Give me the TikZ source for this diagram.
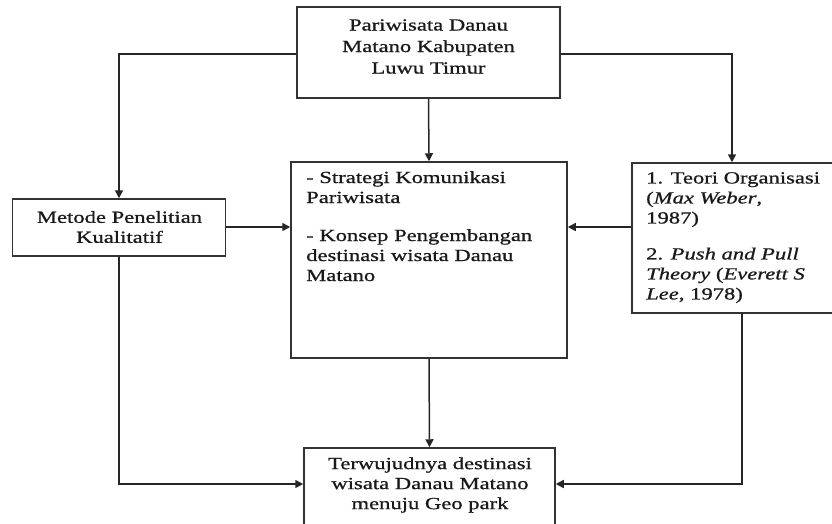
\documentclass[tikz,border=0pt]{standalone}
\usepackage{fontspec}
\setmainfont{Liberation Serif}[FakeStretch=1.33,FakeBold=0.8]
\usetikzlibrary{arrows.meta,calc}
\tikzset{
  boxnode/.style={draw=black!80, line width=1.5pt, rectangle, inner sep=0pt, fill=white},
  txt/.style={inner sep=0pt, font=\fontsize{17pt}{20pt}\selectfont, text=black!90},
  conn/.style={draw=black!85, line width=1.5pt},
  arr/.style={conn, -{Triangle[length=8pt,width=8pt]}}
}
\begin{document}
\begin{tikzpicture}[x=1pt,y=-1pt]
\useasboundingbox (0,0) rectangle (832,523);
\clip (0,0) rectangle (832,523);
% boxes
\node[boxnode, minimum width=263pt, minimum height=91pt] (top) at (428.5,52.5) {};
\node[boxnode, minimum width=213pt, minimum height=57pt] (metode) at (119,227.5) {};
\node[boxnode, minimum width=276pt, minimum height=196pt] (center) at (429,260) {};
\node[boxnode, minimum width=210pt, minimum height=150pt] (right) at (737,238) {};
\node[boxnode, minimum width=251pt, minimum height=84pt] (bottom) at (429.5,490) {};
% texts
\node[txt, align=center, font=\fontsize{17pt}{21.5pt}\selectfont] (toptxt) at (428.5,46.5) {Pariwisata Danau\\Matano Kabupaten\\Luwu Timur};
\node[txt, align=center] (mettxt) at (119.5,227) {Metode Penelitian\\Kualitatif};
\node[txt, align=left, anchor=north west] (centxt) at (306,171) {- Strategi Komunikasi\\Pariwisata\\[18pt]- Konsep Pengembangan\\destinasi wisata Danau\\Matano};
\node[txt, align=left, anchor=north west] (righttxt) at (646,172) {1. Teori Organisasi\\(\textit{Max Weber},\\1987)\\[16pt]2. \textit{Push and Pull}\\\textit{Theory} (\textit{Everett S}\\\textit{Lee}, 1978)};
\node[txt, align=center] (bottxt) at (430,485) {Terwujudnya destinasi\\wisata Danau Matano\\menuju Geo park};
% connectors
\coordinate (ty) at (0,54);
\draw[arr] (top.west |- ty) -| (metode.north);
\draw[arr] (top.east |- ty) -| (right.north -| 732,0);
\draw[arr] (top.south) -- (center.north);
\coordinate (my) at (0,227);
\draw[arr] (metode.east |- my) -- (center.west |- my);
\draw[arr] (right.west |- my) -- (center.east |- my);
\draw[arr] (center.south) -- (bottom.north);
\coordinate (by) at (0,484);
\draw[arr] (metode.south) |- (bottom.west |- by);
\coordinate (rs) at (742,313);
\draw[arr] (rs) |- (bottom.east |- by);
\end{tikzpicture}
\end{document}
